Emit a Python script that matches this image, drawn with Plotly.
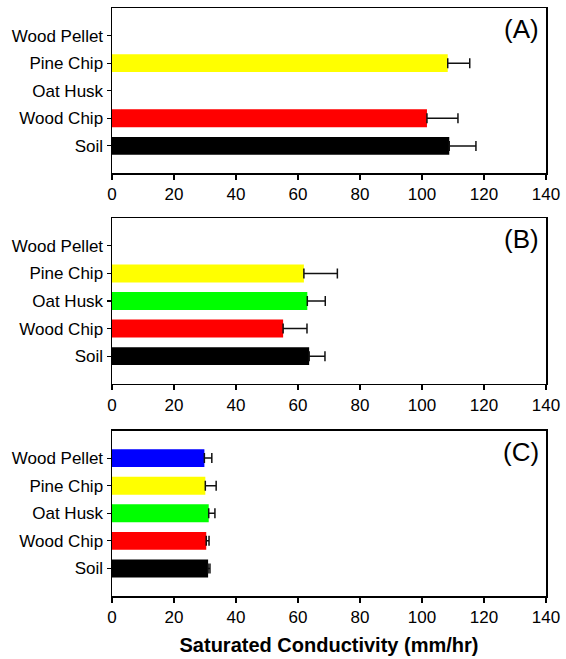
import plotly.graph_objects as go
from plotly.subplots import make_subplots

categories = ["Soil", "Wood Chip", "Oat Husk", "Pine Chip", "Wood Pellet"]
bar_colors = ["#000000", "#ff0000", "#00ff00", "#ffff00", "#0000ff"]

a_values = [108.8, 101.6, None, 108.3, None]
a_errors = [8.6, 10.0, None, 7.1, None]
b_values = [63.6, 55.2, 63.0, 61.9, None]
b_errors = [5.1, 7.7, 5.8, 10.8, None]
c_values = [31.0, 30.4, 31.2, 30.1, 29.8]
c_errors = [0.6, 0.9, 2.0, 3.5, 2.4]

panel_labels = ["(A)", "(B)", "(C)"]
x_ticks = [0, 20, 40, 60, 80, 100, 120, 140]
x_title = "Saturated Conductivity (mm/hr)"

FONT = "Liberation Sans, Arial, sans-serif"

fig = make_subplots(rows=3, cols=1)

panels = [(a_values, a_errors), (b_values, b_errors), (c_values, c_errors)]
for i, (vals, errs) in enumerate(panels, start=1):
    fig.add_trace(
        go.Bar(
            y=categories,
            x=vals,
            orientation="h",
            width=0.65,
            marker=dict(color=bar_colors, line=dict(width=0)),
            error_x=dict(
                type="data",
                symmetric=False,
                array=[e if e is not None else 0 for e in errs],
                arrayminus=[0] * len(errs),
                color="#111111",
                thickness=1.5,
                width=5,
            ),
            showlegend=False,
        ),
        row=i,
        col=1,
    )

domains = [[0.7186, 1.0], [0.361, 0.6424], [0.0, 0.2814]]
for i in range(3):
    suffix = "" if i == 0 else str(i + 1)
    fig.layout["yaxis" + suffix].update(
        domain=domains[i],
        type="category",
        categoryorder="array",
        categoryarray=categories,
        range=[-1, 5],
        showline=True,
        linecolor="black",
        linewidth=1.5,
        mirror=True,
        ticks="outside",
        ticklen=4,
        tickwidth=1.2,
        tickcolor="black",
        showgrid=False,
        zeroline=False,
        tickfont=dict(family=FONT, size=17, color="black"),
        fixedrange=True,
    )
    fig.layout["xaxis" + suffix].update(
        range=[0, 140],
        tickvals=x_ticks,
        showline=True,
        linecolor="black",
        linewidth=1.5,
        mirror=True,
        ticks="outside",
        ticklen=5,
        tickwidth=1.2,
        tickcolor="black",
        showgrid=False,
        zeroline=False,
        tickfont=dict(family=FONT, size=17, color="black"),
        fixedrange=True,
    )
    fig.add_annotation(
        text=panel_labels[i],
        xref="x" + suffix + " domain",
        yref="y" + suffix + " domain",
        x=0.988,
        y=0.873,
        xanchor="right",
        yanchor="middle",
        showarrow=False,
        font=dict(family=FONT, size=26, color="black"),
    )

fig.layout["xaxis3"].update(
    title=dict(text="<b>" + x_title + "</b>", font=dict(family=FONT, size=20, color="black"), standoff=12)
)

fig.update_layout(
    width=566,
    height=659,
    margin=dict(l=112, r=15, t=6, b=63),
    paper_bgcolor="white",
    plot_bgcolor="white",
    bargap=0.35,
)

fig.write_html(
    "out.html",
    config={"displayModeBar": False, "staticPlot": True},
    post_script="document.body.style.margin='0';",
)
